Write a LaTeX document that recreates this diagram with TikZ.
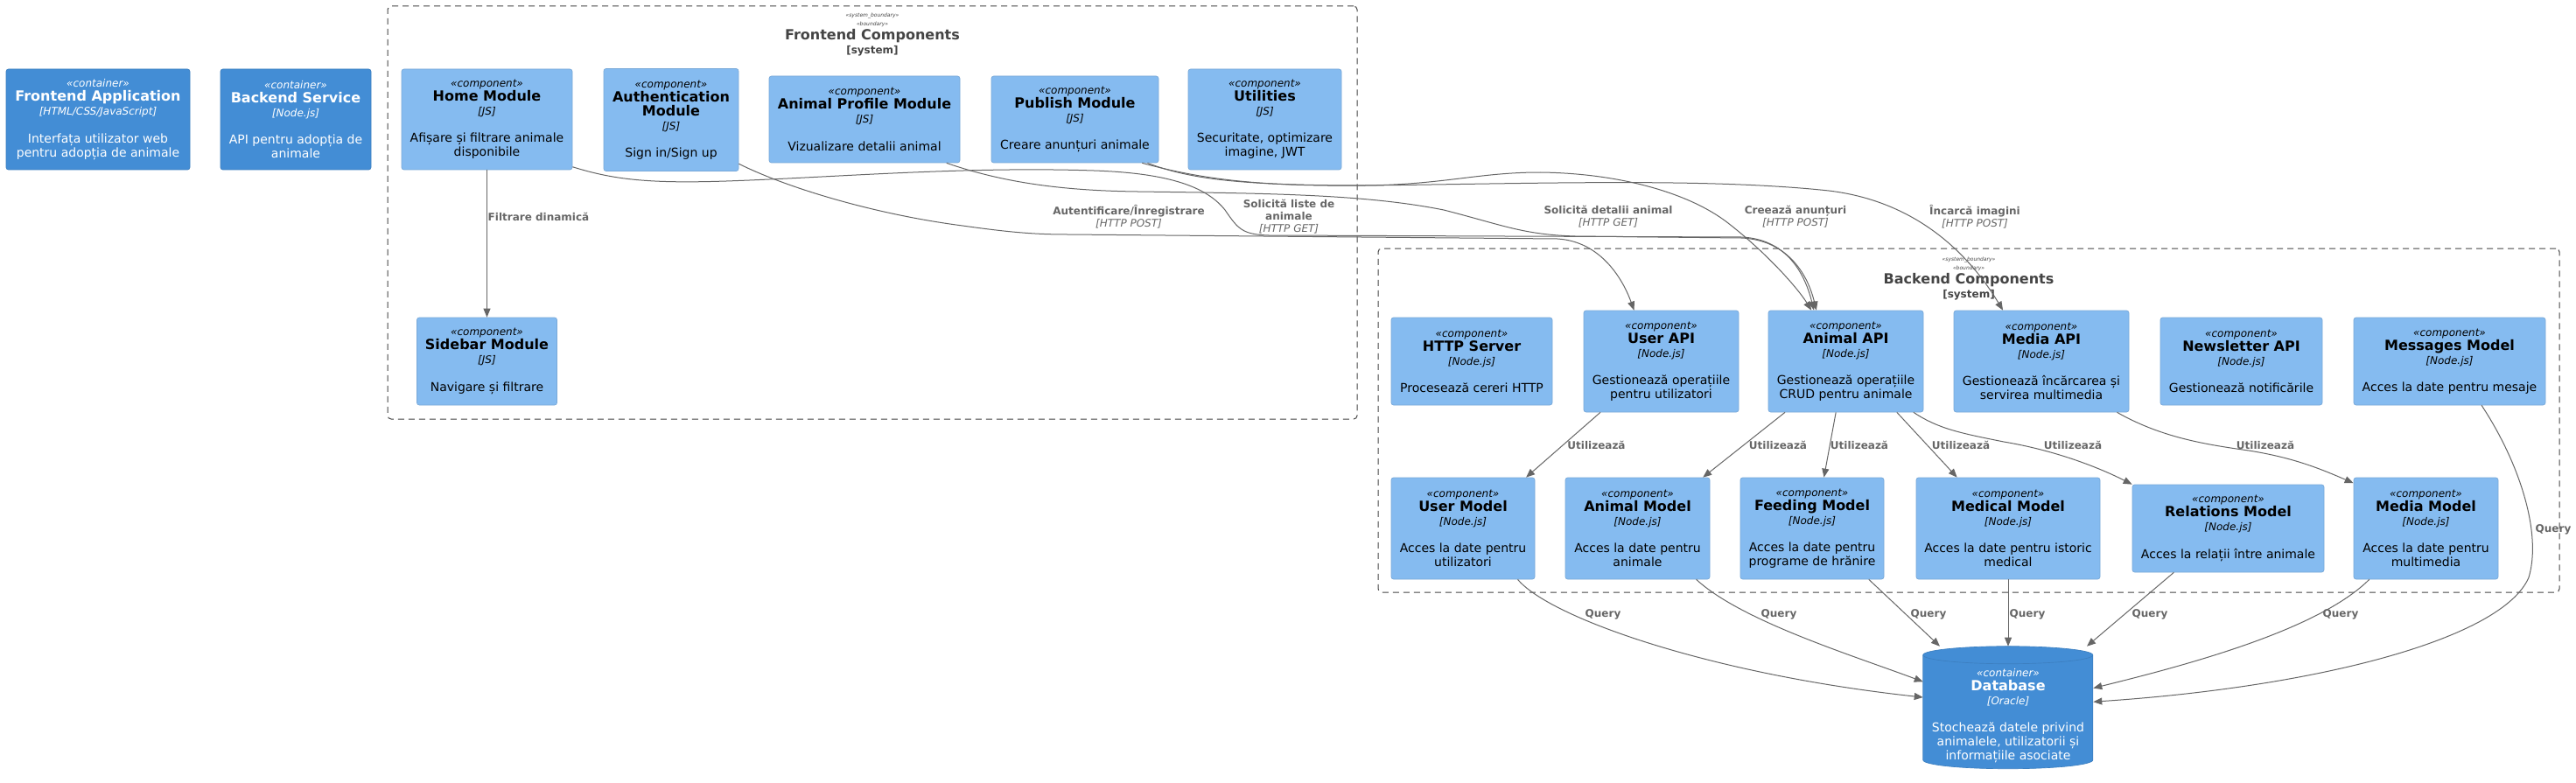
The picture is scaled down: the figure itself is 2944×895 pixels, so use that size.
\documentclass[tikz,border=0pt]{standalone}
\usepackage{fontspec}
\setmainfont{DejaVu Sans}
\setsansfont{DejaVu Sans}
\definecolor{c4comp}{RGB}{133,187,240}
\definecolor{c4compline}{RGB}{120,168,216}
\definecolor{c4cont}{RGB}{67,141,213}
\definecolor{c4contline}{RGB}{60,127,192}
\definecolor{c4bound}{RGB}{68,68,68}
\definecolor{c4rel}{RGB}{102,102,102}
\tikzset{every picture/.style={/utils/exec={\sffamily}}}
\usetikzlibrary{calc}
\usetikzlibrary{positioning}
\usetikzlibrary{shapes.geometric,arrows.meta}

\newcommand{\stp}{\fontsize{9}{12}\selectfont\itshape}
\newcommand{\nm}{\fontsize{12}{12}\selectfont\bfseries}
\newcommand{\tch}{\fontsize{9}{12}\selectfont\itshape}
\newcommand{\pxu}{*0.75pt}

\begin{document}
\begin{tikzpicture}[x=0.75pt,y=-0.75pt]

	 \tikzstyle{comp}=[rectangle,rounded corners=2pt,fill=c4comp,draw=c4compline,line width=0.5pt,align=center,font=\fontsize{10.5}{12}\selectfont,text=black,inner sep=0pt]
	 \tikzstyle{cont}=[comp,fill=c4cont,draw=c4contline,text=white]
	 \tikzstyle{dbase}=[fill=c4cont,draw=c4contline,line width=0.5pt]
	 \tikzstyle{dbtext}=[align=center,text=white,font=\fontsize{10.5}{12}\selectfont,inner sep=0pt]
	 \tikzstyle{bound}=[rectangle,rounded corners=3pt,draw=c4bound,dash pattern=on 5.25pt off 3.75pt,line width=0.75pt]
	 \tikzstyle{btitle}=[align=center,text=c4bound,font=\fontsize{12}{12}\selectfont\bfseries,inner sep=0pt]
	 \tikzstyle{rel}=[draw=c4rel,line width=0.75pt,-{Triangle[length=7.5pt,width=6pt]}]
	 \tikzstyle{rlabel}=[align=center,text=c4rel,font=\fontsize{9}{10.5}\selectfont\bfseries,inner sep=0pt]

	 \useasboundingbox[fill=white] (0,0) rectangle (2944,895);

	 % containers
	 \node[cont,minimum width=210\pxu,minimum height=115\pxu] (feapp) at (112,136.5) {{\stp «container»}\\{\nm Frontend Application}\\{\tch [HTML/CSS/JavaScript]}\\[11.5pt]Interfața utilizator web\\pentru adopția de animale};
	 \node[cont,minimum width=172\pxu,minimum height=115\pxu] (beserv) at (338,136.5) {{\stp «container»}\\{\nm Backend Service}\\{\tch [Node.js]}\\[11.5pt]API pentru adopția de\\animale};

	 % frontend boundary
	 \node[bound,minimum width=1108\pxu,minimum height=472\pxu] (febound) at (997,243) {};
	 \node[btitle] (fetitle) at (997,40) {{\fontsize{4.5}{6}\selectfont\mdseries\itshape «system\_boundary»}\\[-4.5pt]{\fontsize{4.5}{6}\selectfont\mdseries\itshape «boundary»}\\Frontend Components\\{\fontsize{9}{12}\selectfont [system]}};
	 \node[comp,minimum width=195\pxu,minimum height=115\pxu] (home) at (556.5,136.5) {{\stp «component»}\\{\nm Home Module}\\{\tch [JS]}\\[11.5pt]Afișare și filtrare animale\\disponibile};
	 \node[comp,minimum width=154\pxu,minimum height=117\pxu] (auth) at (767,137) {{\stp «component»}\\{\nm Authentication}\\{\nm Module}\\{\tch [JS]}\\[11.5pt]Sign in/Sign up};
	 \node[comp,minimum width=218\pxu,minimum height=99\pxu] (aprof) at (988,136.5) {{\stp «component»}\\{\nm Animal Profile Module}\\{\tch [JS]}\\[11.5pt]Vizualizare detalii animal};
	 \node[comp,minimum width=191\pxu,minimum height=99\pxu] (publish) at (1228.5,136.5) {{\stp «component»}\\{\nm Publish Module}\\{\tch [JS]}\\[11.5pt]Creare anunțuri animale};
	 \node[comp,minimum width=175\pxu,minimum height=115\pxu] (utils) at (1445.5,136.5) {{\stp «component»}\\{\nm Utilities}\\{\tch [JS]}\\[11.5pt]Securitate, optimizare\\imagine, JWT};
	 \node[comp,minimum width=160\pxu,minimum height=100\pxu] (sidebar) at (556.5,413) {{\stp «component»}\\{\nm Sidebar Module}\\{\tch [JS]}\\[11.5pt]Navigare și filtrare};

	 % backend boundary
	 \node[bound,minimum width=1350\pxu,minimum height=393\pxu] (bebound) at (2250,480.5) {};
	 \node[btitle] (betitle) at (2250,319) {{\fontsize{4.5}{6}\selectfont\mdseries\itshape «system\_boundary»}\\[-4.5pt]{\fontsize{4.5}{6}\selectfont\mdseries\itshape «boundary»}\\Backend Components\\{\fontsize{9}{12}\selectfont [system]}};
	 \node[comp,minimum width=184\pxu,minimum height=100\pxu] (http) at (1682,413) {{\stp «component»}\\{\nm HTTP Server}\\{\tch [Node.js]}\\[11.5pt]Procesează cereri HTTP};
	 \node[comp,minimum width=177\pxu,minimum height=116\pxu] (userapi) at (1898.5,413) {{\stp «component»}\\{\nm User API}\\{\tch [Node.js]}\\[11.5pt]Gestionează operațiile\\pentru utilizatori};
	 \node[comp,minimum width=177\pxu,minimum height=116\pxu] (animalapi) at (2109.5,413) {{\stp «component»}\\{\nm Animal API}\\{\tch [Node.js]}\\[11.5pt]Gestionează operațiile\\CRUD pentru animale};
	 \node[comp,minimum width=200\pxu,minimum height=116\pxu] (mediaapi) at (2333,413) {{\stp «component»}\\{\nm Media API}\\{\tch [Node.js]}\\[11.5pt]Gestionează încărcarea și\\servirea multimedia};
	 \node[comp,minimum width=185\pxu,minimum height=100\pxu] (newsapi) at (2561.5,413) {{\stp «component»}\\{\nm Newsletter API}\\{\tch [Node.js]}\\[11.5pt]Gestionează notificările};
	 \node[comp,minimum width=219\pxu,minimum height=100\pxu] (msgmodel) at (2799.5,413) {{\stp «component»}\\{\nm Messages Model}\\{\tch [Node.js]}\\[11.5pt]Acces la date pentru mesaje};
	 \node[comp,minimum width=164\pxu,minimum height=116\pxu] (usermodel) at (1672,604) {{\stp «component»}\\{\nm User Model}\\{\tch [Node.js]}\\[11.5pt]Acces la date pentru\\utilizatori};
	 \node[comp,minimum width=165\pxu,minimum height=116\pxu] (animalmodel) at (1871.5,604) {{\stp «component»}\\{\nm Animal Model}\\{\tch [Node.js]}\\[11.5pt]Acces la date pentru\\animale};
	 \node[comp,minimum width=164\pxu,minimum height=116\pxu] (feedmodel) at (2071,604) {{\stp «component»}\\{\nm Feeding Model}\\{\tch [Node.js]}\\[11.5pt]Acces la date pentru\\programe de hrănire};
	 \node[comp,minimum width=210\pxu,minimum height=116\pxu] (medmodel) at (2295,604) {{\stp «component»}\\{\nm Medical Model}\\{\tch [Node.js]}\\[11.5pt]Acces la date pentru istoric\\medical};
	 \node[comp,minimum width=219\pxu,minimum height=100\pxu] (relmodel) at (2546.5,604) {{\stp «component»}\\{\nm Relations Model}\\{\tch [Node.js]}\\[11.5pt]Acces la relații între animale};
	 \node[comp,minimum width=165\pxu,minimum height=116\pxu] (mediamodel) at (2772.5,604) {{\stp «component»}\\{\nm Media Model}\\{\tch [Node.js]}\\[11.5pt]Acces la date pentru\\multimedia};

	 % database
	 \node[minimum width=194\pxu,minimum height=140\pxu,inner sep=0pt] (db) at (2295,809) {};
	 \filldraw[dbase] ($(db.north west)+(0,10)$) -- ++(0,120) arc (180:0:97 and 10) -- ++(0,-120) arc (0:-180:97 and 10) -- cycle;
	 \draw[dbase,fill=none] ($(db.north west)+(0,10)$) arc (180:0:97 and 10);
	 \node[dbtext] (dbtxt) at ($(db.center)+(0,9)$) {{\stp «container»}\\{\nm Database}\\{\tch [Oracle]}\\[11.5pt]Stochează datele privind\\animalele, utilizatorii și\\informațiile asociate};

	 % frontend relations
	 \draw[rel] (home) -- (sidebar);
	 \draw[rel] (home.-29) .. controls (700,205) and (740,210) .. (830,207) .. controls (950,203) and (1100,190) .. (1250,195) .. controls (1340,198) and (1380,215) .. (1400,240) .. controls (1415,262) and (1420,268) .. (1450,269) -- (1990,271) .. controls (2040,273) and (2062,310) .. (animalapi.122);
	 \draw[rel] (auth.-33) .. controls (900,215) and (1000,245) .. (1100,258) .. controls (1150,265) and (1180,268) .. (1220,268) -- (1780,273) .. controls (1830,276) and (1855,320) .. (userapi.118);
	 \draw[rel] (aprof.-28) .. controls (1150,210) and (1220,218) .. (1300,219) .. controls (1450,221) and (1560,222) .. (1650,240) .. controls (1720,258) and (1740,268) .. (1800,270) -- (1990,272) .. controls (2040,274) and (2065,310) .. (animalapi.120);
	 \draw[rel] (publish.-31) .. controls (1360,205) and (1420,212) .. (1560,212) .. controls (1650,211) and (1690,197) .. (1760,197) .. controls (1850,198) and (1930,220) .. (1975,255) .. controls (2020,290) and (2055,330) .. (animalapi.124);
	 \draw[rel] (publish.-33) .. controls (1380,207) and (1450,213) .. (1560,212) .. controls (1750,210) and (1950,203) .. (2090,218) .. controls (2190,230) and (2250,290) .. (mediaapi.127);
	 \node[rlabel] (lfilter) at (615.5,248) {Filtrare dinamică};
	 \node[rlabel] (lauth) at (1290,248) {Autentificare/Înregistrare\\{\mdseries\itshape [HTTP POST]}};
	 \node[rlabel] (llist) at (1473,248) {Solicită liste de\\animale\\{\mdseries\itshape [HTTP GET]}};
	 \node[rlabel] (ldetail) at (1838,248) {Solicită detalii animal\\{\mdseries\itshape [HTTP GET]}};
	 \node[rlabel] (lcreate) at (2052,248) {Creează anunțuri\\{\mdseries\itshape [HTTP POST]}};
	 \node[rlabel] (lupload) at (2257,248) {Încarcă imagini\\{\mdseries\itshape [HTTP POST]}};

	 % backend relations
	 \draw[rel] (userapi.220) -- (usermodel.39);
	 \draw[rel] (animalapi.220) -- (animalmodel.38);
	 \draw[rel] (animalapi.-101) -- (feedmodel.77);
	 \draw[rel] (animalapi.-45) -- (medmodel.135);
	 \draw[rel] (animalapi.-37) .. controls (2215,490) and (2240,495) .. (2290,505) .. controls (2350,515) and (2400,535) .. (relmodel.north west);
	 \draw[rel] (mediaapi.-34) .. controls (2470,500) and (2520,508) .. (2570,515) .. controls (2620,523) and (2650,535) .. (mediamodel.148);
	 \node[rlabel] (luse1) at (1824.5,509) {Utilizează};
	 \node[rlabel] (luse2) at (2032,509) {Utilizează};
	 \node[rlabel] (luse3) at (2125,509) {Utilizează};
	 \node[rlabel] (luse4) at (2241,509) {Utilizează};
	 \node[rlabel] (luse5) at (2369,509) {Utilizează};
	 \node[rlabel] (luse6) at (2589,509) {Utilizează};

	 % queries
	 \draw[rel] (usermodel.-43) .. controls (1770,705) and (1950,770) .. (db.173);
	 \draw[rel] (animalmodel.-41) .. controls (1990,710) and (2120,750) .. (db.163);
	 \draw[rel] (feedmodel.-42) -- (db.138);
	 \draw[rel] (medmodel) -- (db);
	 \draw[rel] (relmodel.-141) -- (db.38);
	 \draw[rel] (mediamodel.-138) .. controls (2650,720) and (2500,760) .. (db.13);
	 \draw[rel] (msgmodel.-54) .. controls (2880,530) and (2905,610) .. (2890,660) .. controls (2860,730) and (2650,785) .. (db.4);
	 \node[rlabel] (lq1) at (1832,702) {Query};
	 \node[rlabel] (lq2) at (2033,702) {Query};
	 \node[rlabel] (lq3) at (2204,702) {Query};
	 \node[rlabel] (lq4) at (2317,702) {Query};
	 \node[rlabel] (lq5) at (2457,702) {Query};
	 \node[rlabel] (lq6) at (2675,702) {Query};
	 \node[rlabel] (lq7) at (2918,605) {Query};

\end{tikzpicture}
\end{document}
